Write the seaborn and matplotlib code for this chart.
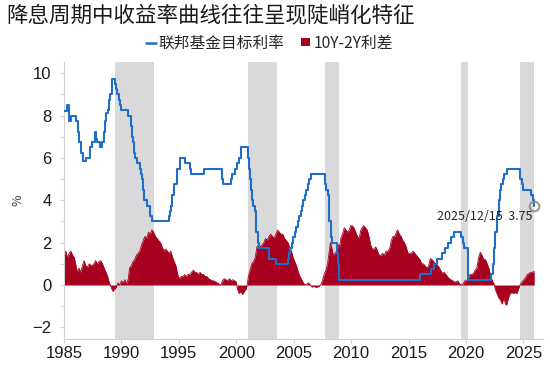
import numpy as np
import pandas as pd
import matplotlib
matplotlib.use("Agg")
import matplotlib.pyplot as plt
from matplotlib.ticker import MultipleLocator
from matplotlib.lines import Line2D
from matplotlib.patches import Patch
import seaborn as sns

# ---------------- data ----------------
title = "降息周期中收益率曲线往往呈现陡峭化特征"
rate_label = "联邦基金目标利率"
spread_label = "10Y-2Y利差"
annot_text = "2025/12/15  3.75"

rate_dates = [1985.0, 1985.25, 1985.42, 1985.65, 1986.05, 1986.2, 1986.3, 1986.5, 1986.62, 1986.9,
              1987.3, 1987.4, 1987.7, 1987.78, 1987.86, 1988.1, 1988.3, 1988.45, 1988.55, 1988.65,
              1988.85, 1988.95, 1989.0, 1989.15, 1989.45, 1989.55, 1989.6, 1989.8, 1989.87, 1989.96,
              1990.55, 1990.8, 1990.87, 1990.92, 1990.96, 1991.02, 1991.1, 1991.2, 1991.33, 1991.6,
              1991.7, 1991.8, 1991.85, 1991.92, 1991.97, 1992.27, 1992.5, 1992.7, 1994.1, 1994.22,
              1994.3, 1994.38, 1994.62, 1994.87, 1995.08, 1995.52, 1995.96, 1996.08, 1997.23, 1998.74,
              1998.8, 1998.87, 1999.5, 1999.65, 1999.88, 2000.09, 2000.22, 2000.38, 2001.01, 2001.08,
              2001.22, 2001.3, 2001.38, 2001.48, 2001.64, 2001.71, 2001.76, 2001.85, 2001.95, 2002.85,
              2003.48, 2004.5, 2004.61, 2004.72, 2004.86, 2004.96, 2005.09, 2005.22, 2005.34, 2005.5,
              2005.61, 2005.72, 2005.84, 2005.96, 2006.08, 2006.24, 2006.36, 2006.5, 2007.72, 2007.83,
              2007.95, 2008.06, 2008.08, 2008.21, 2008.33, 2008.77, 2008.83, 2008.96, 2015.96, 2016.96,
              2017.2, 2017.46, 2017.96, 2018.22, 2018.46, 2018.73, 2018.97, 2019.58, 2019.71, 2019.83,
              2020.17, 2020.21, 2022.21, 2022.34, 2022.46, 2022.57, 2022.72, 2022.84, 2022.96, 2023.09,
              2023.22, 2023.34, 2023.57, 2024.71, 2024.86, 2024.96, 2025.71, 2025.83, 2025.95]
rate_values = [8.2, 8.5, 7.75, 8.0, 7.75, 7.25, 6.75, 6.25, 5.875, 6.0,
               6.5, 6.75, 7.25, 6.875, 6.75, 6.5, 6.75, 7.25, 7.75, 8.125,
               8.25, 8.75, 9.0, 9.75, 9.5, 9.25, 9.0, 8.75, 8.5, 8.25,
               8.0, 7.75, 7.5, 7.25, 7.0, 6.75, 6.25, 6.0, 5.75, 5.5,
               5.25, 5.0, 4.75, 4.5, 4.0, 3.75, 3.25, 3.0, 3.25, 3.5,
               3.75, 4.25, 4.75, 5.5, 6.0, 5.75, 5.5, 5.25, 5.5, 5.25,
               5.0, 4.75, 5.0, 5.25, 5.5, 5.75, 6.0, 6.5, 6.0, 5.5,
               5.0, 4.5, 4.0, 3.75, 3.5, 3.0, 2.5, 2.0, 1.75, 1.25,
               1.0, 1.25, 1.5, 1.75, 2.0, 2.25, 2.5, 2.75, 3.0, 3.25,
               3.5, 3.75, 4.0, 4.25, 4.5, 4.75, 5.0, 5.25, 4.75, 4.5,
               4.25, 3.5, 3.0, 2.25, 2.0, 1.5, 1.0, 0.25, 0.5, 0.75,
               1.0, 1.25, 1.5, 1.75, 2.0, 2.25, 2.5, 2.25, 2.0, 1.75,
               1.25, 0.25, 0.5, 1.0, 1.75, 2.5, 3.25, 4.0, 4.5, 4.75,
               5.0, 5.25, 5.5, 5.0, 4.75, 4.5, 4.25, 4.0, 3.75]

spread_dates = [1985.0, 1985.15, 1985.3, 1985.45, 1985.6, 1985.75, 1985.9, 1986.05, 1986.15, 1986.3,
                1986.45, 1986.6, 1986.75, 1986.9, 1987.05, 1987.2, 1987.4, 1987.6, 1987.75, 1987.9,
                1988.05, 1988.2, 1988.35, 1988.5, 1988.65, 1988.8, 1988.95, 1989.1, 1989.25, 1989.4,
                1989.55, 1989.7, 1989.85, 1990.0, 1990.15, 1990.3, 1990.45, 1990.6, 1990.7, 1990.85,
                1991.0, 1991.15, 1991.3, 1991.45, 1991.6, 1991.75, 1991.9, 1992.05, 1992.2, 1992.35,
                1992.5, 1992.65, 1992.8, 1992.95, 1993.1, 1993.25, 1993.4, 1993.55, 1993.7, 1993.85,
                1994.0, 1994.15, 1994.3, 1994.45, 1994.6, 1994.75, 1994.9, 1995.05, 1995.2, 1995.35,
                1995.5, 1995.65, 1995.8, 1995.95, 1996.1, 1996.25, 1996.4, 1996.55, 1996.7, 1996.85,
                1997.0, 1997.15, 1997.3, 1997.45, 1997.6, 1997.75, 1997.9, 1998.05, 1998.2, 1998.35,
                1998.5, 1998.65, 1998.8, 1998.95, 1999.1, 1999.25, 1999.4, 1999.55, 1999.7, 1999.85,
                2000.0, 2000.1, 2000.25, 2000.4, 2000.55, 2000.7, 2000.85, 2000.95, 2001.05, 2001.2,
                2001.35, 2001.5, 2001.65, 2001.8, 2001.95, 2002.1, 2002.25, 2002.4, 2002.55, 2002.7,
                2002.85, 2003.0, 2003.15, 2003.3, 2003.45, 2003.6, 2003.75, 2003.9, 2004.05, 2004.2,
                2004.35, 2004.5, 2004.65, 2004.8, 2004.95, 2005.1, 2005.25, 2005.4, 2005.55, 2005.7,
                2005.85, 2006.0, 2006.15, 2006.3, 2006.45, 2006.6, 2006.75, 2006.9, 2007.05, 2007.2,
                2007.35, 2007.5, 2007.65, 2007.8, 2007.95, 2008.1, 2008.2, 2008.3, 2008.45, 2008.6,
                2008.75, 2008.9, 2009.0, 2009.1, 2009.25, 2009.4, 2009.55, 2009.7, 2009.85, 2009.95,
                2010.1, 2010.25, 2010.4, 2010.55, 2010.7, 2010.85, 2010.95, 2011.1, 2011.25, 2011.4,
                2011.55, 2011.7, 2011.85, 2012.0, 2012.15, 2012.3, 2012.45, 2012.6, 2012.75, 2012.9,
                2013.05, 2013.2, 2013.35, 2013.5, 2013.65, 2013.8, 2013.95, 2014.05, 2014.2, 2014.35,
                2014.5, 2014.65, 2014.8, 2014.95, 2015.1, 2015.25, 2015.4, 2015.55, 2015.7, 2015.85,
                2016.0, 2016.15, 2016.3, 2016.45, 2016.6, 2016.75, 2016.9, 2017.05, 2017.2, 2017.35,
                2017.5, 2017.65, 2017.8, 2017.95, 2018.1, 2018.25, 2018.4, 2018.55, 2018.7, 2018.85,
                2019.0, 2019.15, 2019.3, 2019.45, 2019.6, 2019.75, 2019.9, 2020.05, 2020.2, 2020.35,
                2020.5, 2020.65, 2020.8, 2020.95, 2021.1, 2021.25, 2021.4, 2021.55, 2021.7, 2021.85,
                2022.0, 2022.15, 2022.3, 2022.45, 2022.55, 2022.7, 2022.85, 2023.0, 2023.15, 2023.3,
                2023.45, 2023.55, 2023.7, 2023.85, 2024.0, 2024.15, 2024.3, 2024.45, 2024.6, 2024.75,
                2024.9, 2025.05, 2025.2, 2025.35, 2025.5, 2025.65, 2025.8, 2025.95]
spread_values = [1.4, 1.6, 1.3, 1.5, 1.6, 1.4, 1.3, 0.9, 0.6, 0.8,
                 0.6, 0.9, 1.15, 0.9, 0.85, 1.0, 0.9, 1.0, 1.15, 1.0,
                 1.1, 1.15, 1.0, 0.8, 0.6, 0.4, 0.1, -0.1, -0.3, -0.2,
                 -0.1, 0.1, 0.0, 0.2, 0.1, 0.25, 0.05, 0.3, 0.8, 0.9,
                 1.1, 1.2, 1.4, 1.5, 1.6, 1.9, 2.1, 2.3, 2.2, 2.5,
                 2.4, 2.6, 2.5, 2.3, 2.2, 2.1, 2.0, 1.8, 1.6, 1.7,
                 1.6, 1.5, 1.6, 1.3, 1.1, 0.9, 0.5, 0.3, 0.4, 0.4,
                 0.5, 0.4, 0.5, 0.5, 0.6, 0.7, 0.6, 0.6, 0.5, 0.6,
                 0.5, 0.5, 0.4, 0.4, 0.3, 0.25, 0.2, 0.2, 0.15, 0.1,
                 0.05, 0.0, 0.2, 0.3, 0.25, 0.2, 0.3, 0.2, 0.25, 0.2,
                 0.15, -0.2, -0.4, -0.3, -0.45, -0.3, -0.2, 0.0, 0.4, 0.7,
                 1.0, 1.1, 1.3, 1.8, 1.9, 1.8, 1.9, 2.0, 2.2, 2.1,
                 2.3, 2.4, 2.3, 2.2, 2.4, 2.6, 2.5, 2.4, 2.4, 2.2,
                 2.1, 2.0, 1.8, 1.6, 1.3, 1.1, 0.9, 0.6, 0.4, 0.25,
                 0.1, 0.0, 0.05, 0.1, 0.0, -0.1, -0.05, -0.1, -0.1, -0.05,
                 0.0, 0.2, 0.5, 0.7, 1.0, 1.6, 2.0, 1.8, 1.4, 1.5,
                 1.6, 1.9, 1.8, 2.2, 2.4, 2.7, 2.6, 2.5, 2.6, 2.8,
                 2.8, 2.7, 2.5, 2.3, 2.2, 2.6, 2.7, 2.8, 2.7, 2.6,
                 2.3, 1.9, 1.7, 1.7, 1.8, 1.6, 1.4, 1.4, 1.5, 1.4,
                 1.6, 1.6, 1.7, 2.1, 2.3, 2.3, 2.5, 2.6, 2.4, 2.3,
                 2.1, 2.0, 1.8, 1.5, 1.5, 1.5, 1.6, 1.5, 1.4, 1.3,
                 1.2, 1.0, 1.0, 0.9, 0.8, 0.9, 1.25, 1.2, 1.1, 1.0,
                 0.95, 0.85, 0.7, 0.55, 0.6, 0.5, 0.4, 0.3, 0.25, 0.2,
                 0.15, 0.15, 0.2, 0.05, 0.0, 0.05, 0.2, 0.2, 0.3, 0.5,
                 0.5, 0.55, 0.7, 0.8, 1.3, 1.55, 1.4, 1.2, 1.2, 1.0,
                 0.8, 0.4, 0.2, 0.05, -0.2, -0.4, -0.6, -0.7, -0.9, -0.6,
                 -0.9, -0.95, -0.6, -0.4, -0.35, -0.4, -0.35, -0.4, -0.15, 0.05,
                 0.15, 0.25, 0.35, 0.5, 0.55, 0.6, 0.6, 0.65]

cut_starts = [1989.43, 2001.01, 2007.72, 2019.58, 2024.71]
cut_ends = [1992.85, 2003.55, 2008.98, 2020.22, 2025.95]

x_ticks = [1985, 1990, 1995, 2000, 2005, 2010, 2015, 2020, 2025]
y_ticks = [-2, 0, 2, 4, 6, 8, 10]

# ---------------- style ----------------
sns.set_theme(style="white")
plt.rcParams['font.family'] = ['Liberation Sans', 'Noto Sans CJK SC', 'DejaVu Sans']
cjk = ['Noto Sans CJK SC', 'DejaVu Sans']

blue = "#1F6FC8"
red = "#A8001F"
band = "#D9D9DC"
spine_c = "#D0D0D0"

fig = plt.figure(figsize=(5.5, 3.65), dpi=100)
ax = fig.add_axes([0.1164, 0.0712, 0.8706, 0.7588])

rate_df = pd.DataFrame({"date": rate_dates, "rate": rate_values})
spread_df = pd.DataFrame({"date": spread_dates, "spread": spread_values})

for s, e in zip(cut_starts, cut_ends):
    ax.axvspan(s, e, color=band, lw=0, zorder=0)

ax.fill_between(spread_df["date"], 0, spread_df["spread"], color=red, lw=0, zorder=2)
sns.lineplot(data=spread_df, x="date", y="spread", ax=ax, color=red, lw=0.6,
             estimator=None, sort=False, zorder=2, legend=False)
sns.lineplot(data=rate_df, x="date", y="rate", ax=ax, color=blue, lw=1.5,
             drawstyle="steps-post", estimator=None, sort=False, zorder=3, legend=False)

# end marker + annotation
ax.plot([rate_dates[-1]], [rate_values[-1]], marker="o", ms=7, mfc="none",
        mec="#8C8C8C", mew=1.3, zorder=4)
ax.text(rate_dates[-1] - 0.15, rate_values[-1] - 0.5, annot_text, ha="right", va="center",
        fontsize=9, color="#262626", family=cjk, zorder=5)

ax.set_xlim(1985, 2026.7)
ax.set_ylim(-2.55, 10.53)
ax.set_xticks(x_ticks)
ax.set_yticks(y_ticks)
ax.yaxis.set_minor_locator(MultipleLocator(1))
ax.set_xlabel("")
ax.set_ylabel("%", family=cjk, fontsize=9, color="#404040", labelpad=6)

for sp in ["top", "right"]:
    ax.spines[sp].set_visible(False)
for sp in ["left", "bottom"]:
    ax.spines[sp].set_color(spine_c)
    ax.spines[sp].set_linewidth(0.8)

ax.tick_params(axis="both", which="both", direction="out", length=3, width=0.8,
               color=spine_c, labelsize=12, labelcolor="#1A1A1A", left=True, bottom=True)
ax.tick_params(axis="y", which="major", pad=6)
ax.tick_params(axis="x", which="major", pad=2)

fig.text(0.012, 0.958, title, fontsize=15.5, fontweight="medium", family=cjk,
         color="#1A1A1A", ha="left", va="center")

handles = [Line2D([0], [0], color=blue, lw=1.8),
           Patch(facecolor=red, edgecolor="none")]
fig.legend(handles, [rate_label, spread_label], loc="center", bbox_to_anchor=(0.49, 0.882),
           ncol=2, frameon=False, handlelength=0.6, handleheight=0.45, handletextpad=0.2,
           columnspacing=1.0, labelcolor="#262626", prop={"family": cjk, "size": 11.3})

fig.savefig("out.png", dpi=100)
